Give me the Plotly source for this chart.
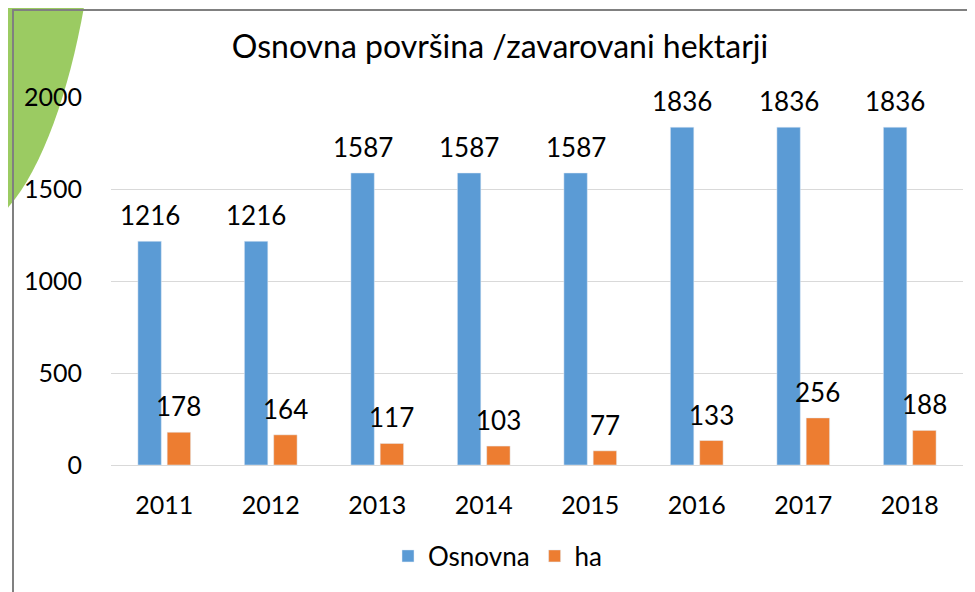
import plotly.graph_objects as go

years = ["2011", "2012", "2013", "2014", "2015", "2016", "2017", "2018"]
osnovna = [1216, 1216, 1587, 1587, 1587, 1836, 1836, 1836]
ha = [178, 164, 117, 103, 77, 133, 256, 188]

# the page body adds an 8px margin, so the figure starts at (8, 8) in the
# window; positions below are in window pixels
OFF = 8
W, H = 975 - OFF, 592 - OFF
PL, PR, PT, PB = 111, 963, 97, 469   # plot area in window pixels
FONT = "Lato"
BARGAP, GROUPGAP = 0.45, 0.2


# window pixel -> paper coordinates (for decorative shapes)
def px(x):
    return (x - PL) / (PR - PL)


def py(y):
    return (PB - y) / (PB - PT)


fig = go.Figure()

fig.add_trace(go.Bar(x=years, y=osnovna, name="Osnovna", marker_color="#5B9BD5"))
fig.add_trace(go.Bar(x=years, y=ha, name="ha", marker_color="#ED7D31"))

# value labels a bit higher above the bars than plotly's own outside text
# (category axis: annotation x is the category index, "2011" would be read as 2011)
cat_w = (PR - PL) / len(years)
shift = cat_w * (1 - BARGAP) / 4
annotations = []
for series, dx in ((osnovna, -shift), (ha, shift)):
    for i, v in enumerate(series):
        annotations.append(dict(
            x=i, y=v, xref="x", yref="y", text=str(v), showarrow=False,
            xshift=dx, yshift=26, yanchor="middle",
            font=dict(size=26, color="#000000", family=FONT),
        ))

# green slide decoration in the top-left corner + chart frame
green = "M {} {} L {} {} C {} {} {} {} {} {} Z".format(
    px(0), py(0), px(85), py(0),
    px(70), py(90), px(40), py(180), px(0), py(217))
shapes = [
    dict(type="path", xref="paper", yref="paper", path=green,
         fillcolor="#9BCB62", line=dict(width=0), layer="below"),
    dict(type="rect", xref="paper", yref="paper",
         x0=px(13), y0=py(9), x1=px(990), y1=py(610),
         line=dict(color="#808080", width=2), layer="below"),
]

fig.update_layout(
    width=W, height=H,
    margin=dict(l=PL - OFF, r=975 - PR, t=PT - OFF, b=592 - PB),
    paper_bgcolor="white", plot_bgcolor="white",
    font=dict(family=FONT, color="#000000", size=25),
    title=dict(text="Osnovna površina /zavarovani hektarji",
               x=(500 - OFF) / W, xanchor="center",
               y=1 - (47 - OFF) / H, yanchor="middle",
               font=dict(size=32, color="#000000")),
    barmode="group", bargap=BARGAP, bargroupgap=GROUPGAP,
    legend=dict(orientation="h", x=px(498), xanchor="center",
                y=py(561), yanchor="middle",
                font=dict(size=26), itemwidth=30, traceorder="normal"),
    shapes=shapes,
    annotations=annotations,
)
fig.update_yaxes(range=[0, 2000], dtick=500, gridcolor="#D9D9D9",
                 showline=False, zeroline=False, ticks="",
                 ticklabelstandoff=28, tickfont=dict(size=25))
fig.update_xaxes(type="category", range=[-0.5, len(years) - 0.5],
                 showline=True, linecolor="#D9D9D9",
                 linewidth=1, ticks="", ticklabelstandoff=18,
                 tickfont=dict(size=25))

fig.write_html("out.html")
